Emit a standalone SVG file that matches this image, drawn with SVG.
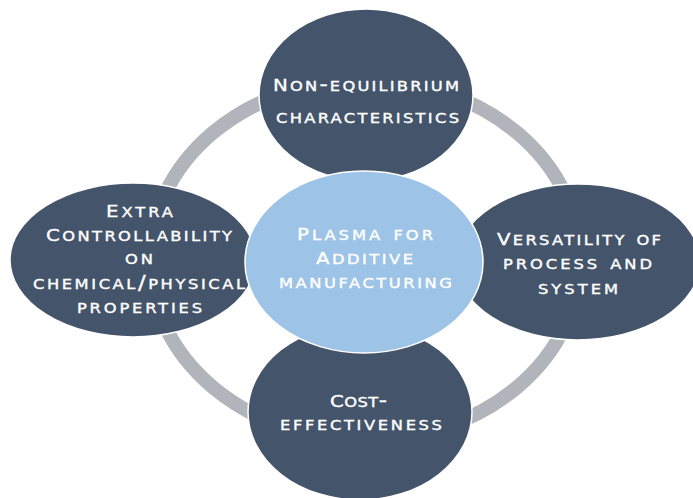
<svg xmlns="http://www.w3.org/2000/svg" width="693" height="498" viewBox="0 0 693 498">
  <style>
    .node { fill: #44546A; stroke: #FFFFFF; stroke-width: 1.5; }
    .hub { fill: #9DC3E6; stroke: #FFFFFF; stroke-width: 1.5; }
    .ring { fill: none; stroke: #B1B4BA; stroke-width: 14; }
    .label { font-family: "DejaVu Sans", "Liberation Sans", sans-serif; font-size: 19px; font-weight: normal; font-variant: small-caps; fill: #FFFFFF; stroke: #FFFFFF; stroke-width: 0.35; text-anchor: middle; }
    .cap { font-size: 16.5px; }
  </style>
  <rect width="693" height="498" fill="#FFFFFF"/>

  <!-- ring linking the four outer nodes -->
  <g id="connectors">
    <ellipse class="ring" cx="365" cy="260" rx="215" ry="180"/>
  </g>

  <!-- labels are stretched 1.2x horizontally about each node's centre line for an extended look -->
  <g id="node-top">
    <ellipse class="node" cx="366" cy="95" rx="107" ry="86"/>
    <g transform="matrix(1.2,0,0,1,-73.2,0)">
      <text class="label" x="366" y="91" textLength="155" lengthAdjust="spacing"><tspan class="cap">N</tspan>on-equilibrium</text>
      <text class="label" x="367.25" y="123" textLength="152.5" lengthAdjust="spacing">characteristics</text>
    </g>
  </g>

  <g id="node-left">
    <ellipse class="node" cx="133" cy="260" rx="123" ry="77"/>
    <g transform="matrix(1.2,0,0,1,-27.8,0)">
      <text class="label" x="139.4" y="217" textLength="55.8" lengthAdjust="spacing"><tspan class="cap">E</tspan>xtra</text>
      <text class="label" x="139" y="241" textLength="155" lengthAdjust="spacing"><tspan class="cap">C</tspan>ontrollability</text>
      <text class="label" x="139" y="264" textLength="23.3" lengthAdjust="spacing">on</text>
      <text class="label" x="139" y="289" textLength="176.7" lengthAdjust="spacing">chemical/physical</text>
      <text class="label" x="139.4" y="313" textLength="104.2" lengthAdjust="spacing">properties</text>
    </g>
  </g>

  <g id="node-right">
    <ellipse class="node" cx="578" cy="262" rx="122" ry="78"/>
    <g transform="matrix(1.2,0,0,1,-115.6,0)">
      <text class="label" x="578.8" y="245" textLength="136.7" lengthAdjust="spacing"><tspan class="cap">V</tspan>ersatility of</text>
      <text class="label" x="577.6" y="269" textLength="124.2" lengthAdjust="spacing">process and</text>
      <text class="label" x="578" y="294" textLength="66.7" lengthAdjust="spacing">system</text>
    </g>
  </g>

  <g id="node-bottom">
    <ellipse class="node" cx="360" cy="412" rx="112" ry="88"/>
    <g transform="matrix(1.2,0,0,1,-72,0)">
      <text class="label" x="358.75" y="407" textLength="47.5" lengthAdjust="spacing"><tspan class="cap">C</tspan>ost-</text>
      <text class="label" x="360.8" y="430" textLength="135" lengthAdjust="spacing">effectiveness</text>
    </g>
  </g>

  <g id="node-center">
    <ellipse class="hub" cx="364" cy="262" rx="119" ry="91"/>
    <g transform="matrix(1.2,0,0,1,-73,0)">
      <text class="label" x="365" y="240" textLength="113.3" lengthAdjust="spacing"><tspan class="cap">P</tspan>lasma for</text>
      <text class="label" x="364.6" y="264" textLength="80.8" lengthAdjust="spacing"><tspan class="cap">A</tspan>dditive</text>
      <text class="label" x="365.4" y="288" textLength="144.2" lengthAdjust="spacing">manufacturing</text>
    </g>
  </g>
</svg>
